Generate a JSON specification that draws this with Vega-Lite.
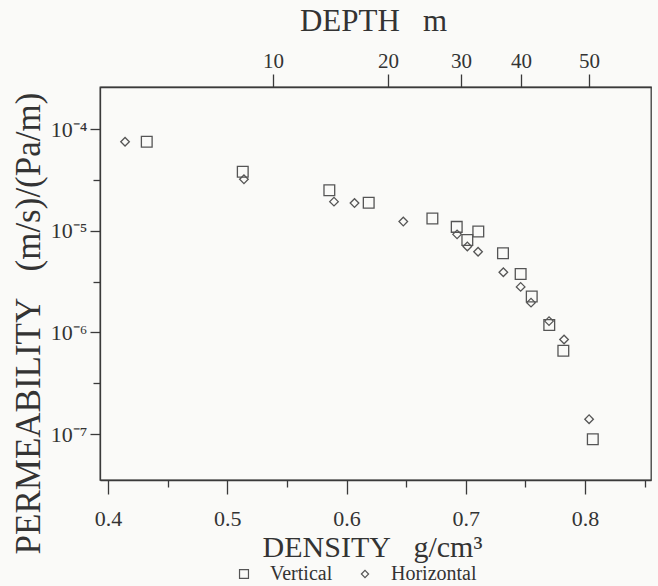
{
  "$schema": "https://vega.github.io/schema/vega-lite/v6.json",
  "width": 551,
  "height": 393,
  "autosize": {"type": "none"},
  "padding": {"left": 100, "top": 87, "right": 7, "bottom": 106},
  "background": "#fafaf8",
  "config": {
    "view": {"stroke": "#3a3a3a", "strokeWidth": 1.3},
    "font": "Liberation Serif",
    "axis": {
      "labelFont": "Liberation Serif",
      "titleFont": "Liberation Serif",
      "titleFontWeight": "normal",
      "labelColor": "#333",
      "titleColor": "#333",
      "domainColor": "#3a3a3a",
      "tickColor": "#3a3a3a",
      "domainWidth": 1.3,
      "tickWidth": 1.3,
      "grid": false,
      "labelFlush": false,
      "labelOverlap": false
    },
    "legend": {
      "labelFont": "Liberation Serif",
      "labelFontSize": 20,
      "labelColor": "#333"
    }
  },
  "datasets": {
    "perm": [
      {"series": "Horizontal", "density": 0.4143, "permeability": 7.5e-5},
      {"series": "Horizontal", "density": 0.514, "permeability": 3.2e-5},
      {"series": "Horizontal", "density": 0.5895, "permeability": 1.93e-5},
      {"series": "Horizontal", "density": 0.6067, "permeability": 1.87e-5},
      {"series": "Horizontal", "density": 0.6476, "permeability": 1.23e-5},
      {"series": "Horizontal", "density": 0.6927, "permeability": 9.2e-6},
      {"series": "Horizontal", "density": 0.7013, "permeability": 7.0e-6},
      {"series": "Horizontal", "density": 0.7103, "permeability": 6.2e-6},
      {"series": "Horizontal", "density": 0.7315, "permeability": 3.9e-6},
      {"series": "Horizontal", "density": 0.746, "permeability": 2.8e-6},
      {"series": "Horizontal", "density": 0.7547, "permeability": 1.96e-6},
      {"series": "Horizontal", "density": 0.7698, "permeability": 1.29e-6},
      {"series": "Horizontal", "density": 0.7824, "permeability": 8.5e-7},
      {"series": "Horizontal", "density": 0.8034, "permeability": 1.4e-7},
      {"series": "Vertical", "density": 0.4325, "permeability": 7.5e-5},
      {"series": "Vertical", "density": 0.513, "permeability": 3.8e-5},
      {"series": "Vertical", "density": 0.5856, "permeability": 2.5e-5},
      {"series": "Vertical", "density": 0.6186, "permeability": 1.88e-5},
      {"series": "Vertical", "density": 0.672, "permeability": 1.32e-5},
      {"series": "Vertical", "density": 0.6924, "permeability": 1.09e-5},
      {"series": "Vertical", "density": 0.7013, "permeability": 8.1e-6},
      {"series": "Vertical", "density": 0.7105, "permeability": 9.8e-6},
      {"series": "Vertical", "density": 0.7312, "permeability": 6.0e-6},
      {"series": "Vertical", "density": 0.746, "permeability": 3.75e-6},
      {"series": "Vertical", "density": 0.7553, "permeability": 2.25e-6},
      {"series": "Vertical", "density": 0.77, "permeability": 1.18e-6},
      {"series": "Vertical", "density": 0.7818, "permeability": 6.6e-7},
      {"series": "Vertical", "density": 0.8065, "permeability": 8.9e-8}
    ],
    "depthTicks": [
      {"depth": 10, "density": 0.5384},
      {"depth": 20, "density": 0.6348},
      {"depth": 30, "density": 0.696},
      {"depth": 40, "density": 0.7463},
      {"depth": 50, "density": 0.8034}
    ]
  },
  "resolve": {"axis": {"x": "independent"}},
  "layer": [
    {
      "data": {"name": "perm"},
      "mark": {"type": "point", "filled": false, "color": "#555", "strokeWidth": 1.3, "opacity": 1, "size": 115},
      "encoding": {
        "x": {
          "field": "density",
          "type": "quantitative",
          "scale": {"domain": [0.3933, 0.8553], "nice": false, "zero": false},
          "axis": {
            "orient": "bottom",
            "values": [0.4, 0.45, 0.5, 0.55, 0.6, 0.65, 0.7, 0.75, 0.8, 0.85],
            "tickSize": {"condition": {"test": "abs(datum.value*10 - round(datum.value*10)) < 0.01", "value": 14}, "value": 7},
            "labelExpr": "abs(datum.value*10 - round(datum.value*10)) < 0.01 ? format(datum.value, '.1f') : ''",
            "labelFontSize": 22,
            "labelPadding": 14,
            "title": "DENSITY\u00a0\u00a0\u00a0g/cm³",
            "titleFontSize": 30,
            "titleX": 272,
            "titleY": 76,
            "titleBaseline": "alphabetic",
            "titleAlign": "center"
          }
        },
        "y": {
          "field": "permeability",
          "type": "quantitative",
          "scale": {"type": "log", "domain": [3.53e-8, 2.59e-4], "nice": false, "zero": false},
          "axis": {
            "orient": "left",
            "values": [1e-4, 3.1623e-5, 1e-5, 3.1623e-6, 1e-6, 3.1623e-7, 1e-7],
            "tickSize": {"condition": {"test": "abs(log(datum.value)/LN10 - round(log(datum.value)/LN10)) < 0.01", "value": 10}, "value": 7},
            "labelExpr": "abs(log(datum.value)/LN10 - round(log(datum.value)/LN10)) < 0.01 ? '10' + ['⁰','⁻¹','⁻²','⁻³','⁻⁴','⁻⁵','⁻⁶','⁻⁷','⁻⁸'][-round(log(datum.value)/LN10)] : ''",
            "labelFontSize": 22,
            "labelPadding": 3,
            "title": "PERMEABILITY\u00a0\u00a0\u00a0(m/s)/(Pa/m)",
            "titleFontSize": 35,
            "titleX": -72,
            "titleY": 236,
            "titleAngle": 270,
            "titleAlign": "center",
            "titleBaseline": "middle"
          }
        },
        "shape": {
          "field": "series",
          "type": "nominal",
          "scale": {"domain": ["Vertical", "Horizontal"], "range": ["square", "M-0.8,0L0,-0.8L0.8,0L0,0.8Z"]},
          "legend": {
            "title": null,
            "orient": "none",
            "direction": "horizontal",
            "legendX": 134,
            "legendY": 477,
            "columnPadding": 22,
            "labelOffset": 16,
            "symbolSize": 80,
            "symbolStrokeColor": "#555",
            "symbolStrokeWidth": 1.2
          }
        }
      }
    },
    {
      "data": {"name": "depthTicks"},
      "mark": {"type": "point", "size": 0, "strokeWidth": 0},
      "encoding": {
        "x": {
          "field": "density",
          "type": "quantitative",
          "axis": {
            "orient": "top",
            "values": [0.5384, 0.6348, 0.696, 0.7463, 0.8034],
            "labelExpr": "datum.value < 0.58 ? '10' : datum.value < 0.66 ? '20' : datum.value < 0.72 ? '30' : datum.value < 0.78 ? '40' : '50'",
            "tickSize": 13,
            "labelFontSize": 21,
            "labelPadding": 3,
            "title": "DEPTH\u00a0\u00a0\u00a0m",
            "titleFontSize": 31,
            "titleX": 273,
            "titleY": -57,
            "titleBaseline": "alphabetic",
            "titleAlign": "center"
          }
        }
      }
    }
  ]
}
